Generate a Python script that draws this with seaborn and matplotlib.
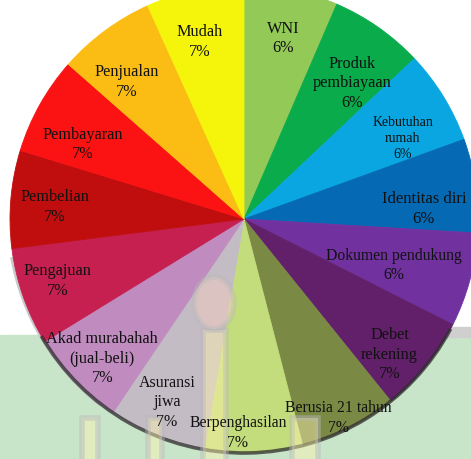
import numpy as np
import matplotlib.pyplot as plt
import matplotlib.patches as mpatches
import seaborn as sns

# data (clockwise from the top)
labels = ['WNI', 'Produk\npembiayaan', 'Kebutuhan\nrumah', 'Identitas diri',
          'Dokumen pendukung', 'Debet\nrekening', 'Berusia 21 tahun',
          'Berpenghasilan', 'Asuransi\njiwa', 'Akad murabahah\n(jual-beli)',
          'Pengajuan', 'Pembelian', 'Pembayaran', 'Penjualan', 'Mudah']
values = [6.49, 6.49, 6.49, 6.49, 6.49, 6.755, 6.755, 6.755, 6.755, 6.755,
          6.755, 6.755, 6.755, 6.755, 6.755]

colors = ['#92c957', '#0aab4b', '#0aa6e2', '#0569b3', '#7132a0', '#62206a',
          '#7a8a45', '#c3dd7c', '#c4bcc4', '#c08cc0', '#c5204f', '#c00e0e',
          '#fb1212', '#fbbd14', '#f5f50c']
# label placement: distance from centre (fraction of radius), angle shift (deg, clockwise)
label_r = [0.79, 0.74, 0.76, 0.77, 0.67, 0.85, 0.94, 0.915, 0.85, 0.85,
           0.84, 0.81, 0.76, 0.77, 0.78]
label_shift = [0.5, 3.4, 4.6, 5.0, 2.1, 4.0, 1.4, 4.0, 0.9, -0.8,
               1.1, -1.3, -4.4, -4.0, -1.8]
label_fs = [11.7, 11.7, 10, 12, 11.3, 11.7, 11.3, 11.3, 11.5, 11.7,
            11.7, 11.7, 11.7, 11.7, 11.7]

sns.set_style('white')
plt.rcParams['font.family'] = ['Liberation Serif', 'DejaVu Serif']

fig = plt.figure(figsize=(4.71, 4.59), dpi=100)
ax = fig.add_axes([0, 0, 1, 1])

# pixel -> data helper (pie centre at px 244,219, radius 234 px)
def P(px, py):
    return ((px - 244) / 234, (219 - py) / 234)

# faded watermark background (light green lower part)
x0, y0 = P(0, 459)
x1, y1 = P(471, 335)
ax.add_patch(mpatches.Rectangle((x0, y0), x1 - x0, y1 - y0, color='#c8e5ca', zorder=0))
gx, gy = P(440, 337)
ax.add_patch(mpatches.Rectangle((gx, gy), 0.2, 10 / 234, color='#cfcfcf', zorder=0))
# big grey ring on the left
ax.add_patch(mpatches.Arc(P(250, 215), 2 * 238 / 234, 2 * 238 / 234, theta1=190, theta2=232,
                          color='#c9c9c9', lw=8, zorder=0))

wedges, _ = ax.pie(values, colors=colors, startangle=90, counterclock=False,
                   radius=1)
for w, c in zip(wedges, colors):
    w.set_zorder(1)
    w.set_edgecolor(c)
    w.set_linewidth(0.6)

# shadow arc along lower rim
ax.add_patch(mpatches.Arc((0, 0), 2.0, 2.0, theta1=-150, theta2=-28,
                          color='#2e2e2e', lw=2.6, alpha=0.75, zorder=2))

# watermark minarets drawn faintly on top
for (a, b, c, d) in [(82, 418, 98, 470), (148, 418, 162, 470), (203, 330, 226, 470),
                     (292, 418, 318, 470)]:
    xa, ya = P(a, d)
    xb, yb = P(c, b)
    ax.add_patch(mpatches.Rectangle((xa, ya), xb - xa, yb - ya, facecolor='#fff3b0',
                                    edgecolor='#b9b9b9', lw=4, alpha=0.45, zorder=3))
ax.add_patch(mpatches.Ellipse(P(214, 303), 40 / 234, 52 / 234, facecolor='#ffd0c0',
                              edgecolor='#b9b9b9', lw=4, alpha=0.4, zorder=3))

total = sum(values)
for w, lab, v, r, sh, fs in zip(wedges, labels, values, label_r, label_shift, label_fs):
    ang = np.deg2rad((w.theta1 + w.theta2) / 2 - sh)
    pct = '{:.0f}%'.format(v / total * 100)
    ax.text(r * np.cos(ang), r * np.sin(ang), lab + '\n' + pct, ha='center', va='center',
            fontsize=fs, color='#111111', linespacing=1.3, zorder=5)

ax.set_xlim(-244 / 234, 227 / 234)
ax.set_ylim(-240 / 234, 219 / 234)
ax.set_aspect('auto')
ax.axis('off')

fig.savefig('out.png', dpi=100)
